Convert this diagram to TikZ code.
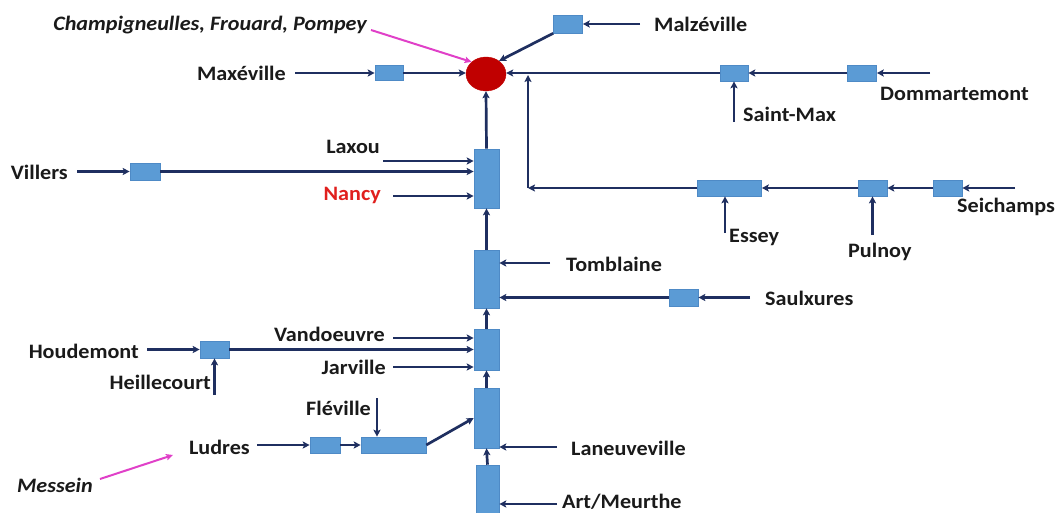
\documentclass[tikz,border=0pt]{standalone}
\usepackage{fontspec}
\setmainfont{Carlito}[FakeStretch=1.08]
\usetikzlibrary{arrows.meta,calc,shapes.geometric}
\definecolor{boxblue}{HTML}{5B9BD5}
\definecolor{boxedge}{HTML}{4E8AC6}
\definecolor{navy}{HTML}{1F2F60}
\definecolor{dred}{HTML}{C00000}
\definecolor{nred}{HTML}{E0201E}
\definecolor{pinkc}{HTML}{E040C8}
\definecolor{txt}{HTML}{1A1A1A}
\begin{document}
\begin{tikzpicture}[x=1pt,y=-1pt,
  box/.style={draw=boxedge,line width=0.6pt,fill=boxblue,inner sep=0pt},
  hubst/.style={ellipse,draw=dred,fill=dred,inner sep=0pt,minimum width=40pt,minimum height=34pt},
  lbl/.style={font=\fontsize{20.5}{24}\selectfont\bfseries,inner sep=0pt,text=txt,anchor=west},
  rlbl/.style={lbl,anchor=east},
  ilbl/.style={rlbl,font=\fontsize{20.5}{24}\selectfont\bfseries\itshape},
  flow/.style={draw=navy,line width=2.7pt,-{Stealth[length=7pt,width=7pt,inset=1.5pt]}},
  pinkflow/.style={draw=pinkc,line width=2pt,-{Stealth[length=7pt,width=6.5pt,inset=1.5pt]}}]
\useasboundingbox (0,0) rectangle (1061,512);
% hub
\node[hubst] (hub) at (486,74) {};
% boxes
\node[box,minimum width=29pt,minimum height=18pt] (malz) at (568,24) {};
\node[box,minimum width=28pt,minimum height=15pt] (maxb) at (389,73) {};
\node[box,minimum width=28pt,minimum height=16pt] (smax) at (734,73) {};
\node[box,minimum width=29pt,minimum height=16pt] (domb) at (862,73) {};
\node[box,minimum width=25pt,minimum height=59pt] (nancyb) at (486.5,178.5) {};
\node[box,minimum width=30pt,minimum height=17pt] (villb) at (145,171.5) {};
\node[box,minimum width=64pt,minimum height=16pt] (esseyb) at (729.5,188) {};
\node[box,minimum width=29pt,minimum height=16pt] (pulb) at (872.5,188) {};
\node[box,minimum width=29pt,minimum height=16pt] (seib) at (947.5,188) {};
\node[box,minimum width=25pt,minimum height=58pt] (tombb) at (486.5,279) {};
\node[box,minimum width=29pt,minimum height=17pt] (saulb) at (683.5,297.5) {};
\node[box,minimum width=25pt,minimum height=41pt] (vandb) at (486.5,349.5) {};
\node[box,minimum width=29pt,minimum height=17pt] (houdb) at (214.5,349.5) {};
\node[box,minimum width=25pt,minimum height=60pt] (lanb) at (486.5,418) {};
\node[box,minimum width=65pt,minimum height=16pt] (flevb) at (393.5,445) {};
\node[box,minimum width=30pt,minimum height=16pt] (ludb) at (325,445) {};
\node[box,minimum width=23pt,minimum height=50pt] (artb) at (487.5,490) {};
% labels
\node[ilbl] (champ) at (367,25) {Champigneulles, Frouard, Pompey};
\node[lbl] (malzL) at (654,24) {Malzéville};
\node[rlbl] (maxL) at (286,73) {Maxéville};
\node[lbl] (domL) at (880,94) {Dommartemont};
\node[lbl] (smaxL) at (743,114) {Saint-Max};
\node[rlbl] (laxL) at (380,147) {Laxou};
\node[rlbl] (villL) at (68,172) {Villers};
\node[rlbl,text=nred] (nancyL) at (381,195) {Nancy};
\node[lbl] (seiL) at (957,207) {Seichamps};
\node[lbl] (esseyL) at (729,237) {Essey};
\node[lbl] (pulL) at (848,252) {Pulnoy};
\node[lbl] (tombL) at (566,264) {Tomblaine};
\node[lbl] (saulL) at (765,298) {Saulxures};
\node[rlbl] (vandL) at (385,334) {Vandoeuvre};
\node[rlbl] (houdL) at (139,351) {Houdemont};
\node[rlbl] (jarL) at (386,367) {Jarville};
\node[rlbl] (heilL) at (211,382) {Heillecourt};
\node[rlbl] (flevL) at (371,408) {Fléville};
\node[rlbl] (ludL) at (250,447) {Ludres};
\node[lbl] (lanL) at (571,448) {Laneuveville};
\node[ilbl] (messL) at (93,485) {Messein};
\node[lbl] (artL) at (562,502) {Art/Meurthe};
% free ends
\coordinate (cs) at (371,30);
\coordinate (mz) at (640,24);
\coordinate (mx) at (295,73);
\coordinate (dm) at (930,73);
\coordinate (sm) at (734,122);
\coordinate (turn) at (528,188);
\coordinate (se) at (1015,188);
\coordinate (es) at (725,233);
\coordinate (pu) at (872.5,235);
\coordinate (laxS) at (383,161);
\coordinate (vi) at (77,171.5);
\coordinate (nanS) at (393,196);
\coordinate (tomS) at (550,263);
\coordinate (saS) at (750,297.5);
\coordinate (vaS) at (393,338);
\coordinate (hoS) at (147,349.5);
\coordinate (heS) at (214.5,395);
\coordinate (jaS) at (393,367);
\coordinate (laS) at (557,447);
\coordinate (flS) at (377,398);
\coordinate (luS) at (257,445);
\coordinate (arS) at (557,504);
\coordinate (m1) at (100,479);
\coordinate (m2) at (173,455);
% connectors top
\draw[pinkflow] (cs) -- (hub.140);
\draw[flow] (malz.south west) -- (hub.45);
\draw[flow] (mz) -- (malz.east);
\draw[flow] (mx) -- (maxb.west);
\draw[flow] (maxb.east) -- (maxb.east -| hub.west);
\draw[flow] (smax.west) -- (smax.west -| hub.east);
\draw[flow] (domb.west) -- (smax.east);
\draw[flow] (dm) -- (domb.east);
\draw[flow] (sm) -- (smax.south);
\draw[flow] (esseyb.west) -- (turn);
\draw[flow] (turn) -- ($(turn |- smax.west)+(0,2)$);
\draw[flow] (pulb.west) -- (esseyb.east);
\draw[flow] (seib.west) -- (pulb.east);
\draw[flow] (se) -- (seib.east);
\draw[flow] (es) -- (es |- esseyb.south);
\draw[flow] (pu) -- (pulb.south);
% central column
\draw[flow] (nancyb.north) -- (hub.south);
\draw[flow] (laxS) -- (laxS -| nancyb.west);
\draw[flow] (vi) -- (villb.west);
\draw[flow] (villb.east) -- (villb.east -| nancyb.west);
\draw[flow] (nanS) -- (nanS -| nancyb.west);
\draw[flow] (tombb.north) -- (nancyb.south);
\draw[flow] (tomS) -- (tomS -| tombb.east);
\draw[flow] (saulb.west) -- (saulb.west -| tombb.east);
\draw[flow] (saS) -- (saulb.east);
\draw[flow] (vandb.north) -- (tombb.south);
\draw[flow] (vaS) -- (vaS -| vandb.west);
\draw[flow] (hoS) -- (houdb.west);
\draw[flow] (houdb.east) -- (houdb.east -| vandb.west);
\draw[flow] (heS) -- (houdb.south);
\draw[flow] (jaS) -- (jaS -| vandb.west);
\draw[flow] (lanb.north) -- (vandb.south);
\draw[flow] (laS) -- (laS -| lanb.east);
\draw[flow] (flS) -- (flS |- flevb.north);
\draw[flow] (luS) -- (ludb.west);
\draw[flow] (ludb.east) -- (flevb.west);
\draw[flow] (flevb.east) -- (lanb.west);
\draw[flow] (artb.north) -- (lanb.south);
\draw[flow] (arS) -- (arS -| artb.east);
\draw[pinkflow] (m1) -- (m2);
\end{tikzpicture}
\end{document}
